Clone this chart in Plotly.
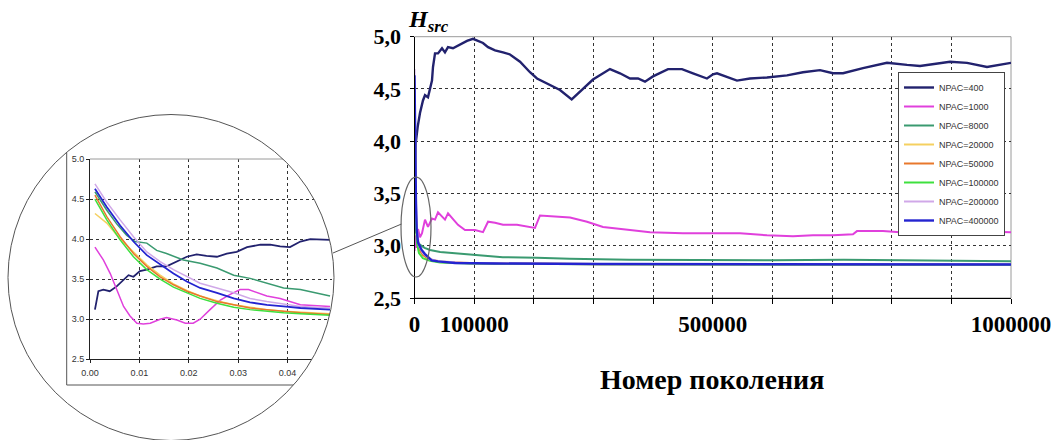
import numpy as np
import plotly.graph_objects as go

W, H = 1059, 440

# ---------------- data: main chart ----------------
names = ["NPAC=400", "NPAC=1000", "NPAC=8000", "NPAC=20000",
         "NPAC=50000", "NPAC=100000", "NPAC=200000", "NPAC=400000"]
colors = ["#22226e", "#e040dc", "#3a9a70", "#f5d060",
          "#e8782c", "#3ee03e", "#d0a8e8", "#2424d0"]
widths = [2.4, 2, 2, 2, 2, 2, 2, 2.4]

x_400 = [0, 2000, 5400, 9200, 14200, 17600, 22600, 26000, 29300, 31000, 34400, 39400,
         46100, 51100, 56200, 64500, 71200, 79600, 88000, 98100, 106500, 114800, 123300,
         135000, 148400, 160100, 176900, 193600, 205400, 218800, 230500, 243900, 263500,
         282500, 299200, 327700, 344500, 361300, 374700, 386400, 399800, 425000, 448400,
         466900, 490300, 500400, 507100, 540600, 562400, 590900, 624500, 651300, 679800,
         701600, 718400, 751900, 792100, 825700, 847500, 897800, 926300, 959800, 1000000]
y_400 = [3.12, 3.98, 4.14, 4.27, 4.39, 4.44, 4.42, 4.51, 4.58, 4.71, 4.84, 4.84,
         4.89, 4.85, 4.90, 4.89, 4.91, 4.93, 4.96, 4.98, 4.96, 4.94, 4.90,
         4.87, 4.85, 4.83, 4.76, 4.66, 4.60, 4.56, 4.53, 4.49, 4.40,
         4.50, 4.59, 4.69, 4.65, 4.60, 4.60, 4.57, 4.62, 4.69, 4.69,
         4.65, 4.60, 4.64, 4.65, 4.58, 4.60, 4.61, 4.63, 4.66, 4.68,
         4.65, 4.65, 4.70, 4.75, 4.73, 4.72, 4.76, 4.75, 4.71, 4.75]

x_1000 = [0, 1700, 3400, 5900, 9200, 12600, 17600, 22600, 29300, 34400, 39400, 46100,
          51100, 56200, 64500, 72900, 84700, 101400, 114800, 123300, 135000, 148400,
          171800, 193600, 202000, 210400, 232200, 260700, 289200, 316000, 361300, 394800,
          450100, 500400, 545700, 590900, 634500, 668000, 701600, 735100, 741800, 785400,
          813900, 847500, 926300, 1000000]
y_1000 = [2.95, 3.10, 2.98, 3.16, 3.08, 3.12, 3.25, 3.18, 3.26, 3.25, 3.32, 3.28,
          3.25, 3.31, 3.25, 3.20, 3.15, 3.15, 3.13, 3.23, 3.22, 3.20,
          3.20, 3.18, 3.17, 3.29, 3.28, 3.27, 3.23, 3.18, 3.15, 3.13,
          3.12, 3.12, 3.12, 3.10, 3.09, 3.10, 3.10, 3.11, 3.14, 3.14,
          3.13, 3.14, 3.14, 3.13]

x_8000 = [0, 1000, 2500, 5000, 9000, 17000, 26000, 43000, 65000, 110000, 148000, 205000,
          260000, 360000, 480000, 600000, 720000, 850000, 950000, 1000000]
y_8000 = [4.59, 3.70, 3.20, 3.05, 3.01, 2.98, 2.96, 2.94, 2.93, 2.91, 2.89, 2.885,
          2.875, 2.865, 2.862, 2.86, 2.865, 2.86, 2.858, 2.852]

x_big = [0, 800, 2500, 4200, 7500, 14000, 26000, 43000, 93000, 310000, 1000000]
y_20000 = [4.34, 3.90, 3.30, 3.10, 2.98, 2.92, 2.87, 2.85, 2.835, 2.825, 2.82]
y_50000 = [4.55, 3.95, 3.30, 3.08, 2.97, 2.91, 2.865, 2.845, 2.832, 2.824, 2.82]
y_100000 = [4.50, 3.85, 3.20, 3.02, 2.93, 2.88, 2.855, 2.84, 2.83, 2.822, 2.818]
y_200000 = [4.69, 4.10, 3.45, 3.15, 3.00, 2.93, 2.87, 2.85, 2.835, 2.826, 2.822]

x_400000 = [0, 800, 2500, 3700, 5900, 12000, 17600, 28800, 39400, 68000, 135000, 310000,
            650000, 1000000]
y_400000 = [4.63, 4.00, 3.40, 3.15, 3.03, 2.96, 2.92, 2.86, 2.85, 2.835, 2.83, 2.825,
            2.82, 2.82]

main_x = [x_400, x_1000, x_8000, x_big, x_big, x_big, x_big, x_400000]
main_y = [y_400, y_1000, y_8000, y_20000, y_50000, y_100000, y_200000, y_400000]

x_labelvals = [0, 100000, 500000, 1000000]
x_labeltext = ["0", "100000", "500000", "1000000"]
x_gridstep = 100000
y_tickvals = [2.5, 3.0, 3.5, 4.0, 4.5, 5.0]
y_ticktext = ["2,5", "3,0", "3,5", "4,0", "4,5", "5,0"]

# ---------------- data: inset (zoomed start) ----------------
ix_400 = [0.001, 0.0014, 0.0017, 0.0027, 0.004, 0.0054, 0.0068, 0.0078, 0.0088, 0.0101,
          0.0115, 0.0135, 0.0155, 0.0176, 0.0196, 0.0216, 0.0236, 0.0257, 0.0277, 0.0297,
          0.0318, 0.0345, 0.0365, 0.0385, 0.0405, 0.0426, 0.0446, 0.0486]
iy_400 = [3.12, 3.24, 3.35, 3.37, 3.35, 3.41, 3.49, 3.55, 3.53, 3.60,
          3.62, 3.66, 3.66, 3.72, 3.78, 3.81, 3.79, 3.78, 3.82, 3.84,
          3.90, 3.93, 3.93, 3.91, 3.90, 3.97, 4.00, 3.99]
ix_1000 = [0.0010, 0.0027, 0.0041, 0.0054, 0.0068, 0.0081, 0.0095, 0.0108, 0.0122, 0.0142,
           0.0155, 0.0176, 0.0193, 0.0209, 0.0223, 0.0243, 0.0264, 0.0284, 0.0304, 0.0321,
           0.0338, 0.0358, 0.0385, 0.0405, 0.0426, 0.0486]
iy_1000 = [3.90, 3.74, 3.57, 3.37, 3.16, 3.04, 2.95, 2.94, 2.95, 3.00,
           3.02, 2.99, 2.95, 2.95, 3.00, 3.12, 3.24, 3.31, 3.37, 3.37,
           3.33, 3.29, 3.26, 3.22, 3.18, 3.16]
ix_8000 = [0.0010, 0.0034, 0.0054, 0.0074, 0.0091, 0.0115, 0.0135, 0.0155, 0.0189, 0.0223,
           0.0257, 0.0291, 0.0324, 0.0358, 0.0392, 0.0426, 0.0459, 0.0486]
iy_8000 = [4.59, 4.36, 4.19, 4.05, 3.97, 3.95, 3.86, 3.82, 3.74, 3.70,
           3.64, 3.55, 3.51, 3.45, 3.39, 3.37, 3.33, 3.29]
ix_big = [0.0010, 0.0034, 0.0061, 0.0088, 0.0115, 0.0142, 0.0169, 0.0196, 0.0223, 0.0257,
          0.0291, 0.0324, 0.0358, 0.0392, 0.0426, 0.0486]
iy_20000 = [4.32, 4.20, 4.00, 3.84, 3.68, 3.55, 3.44, 3.36, 3.29, 3.23, 3.18, 3.15, 3.12, 3.10, 3.09, 3.07]
iy_50000 = [4.55, 4.28, 4.03, 3.82, 3.66, 3.53, 3.43, 3.35, 3.29, 3.22, 3.18, 3.14, 3.12, 3.10, 3.08, 3.06]
iy_100000 = [4.50, 4.24, 3.99, 3.78, 3.62, 3.50, 3.40, 3.33, 3.26, 3.20, 3.15, 3.12, 3.10, 3.08, 3.07, 3.05]
iy_200000 = [4.69, 4.46, 4.24, 4.03, 3.84, 3.72, 3.62, 3.53, 3.45, 3.39, 3.33, 3.26, 3.22, 3.19, 3.16, 3.14]
iy_400000 = [4.63, 4.40, 4.17, 3.97, 3.80, 3.68, 3.57, 3.47, 3.39, 3.33, 3.26, 3.21, 3.18, 3.16, 3.14, 3.12]

inset_x = [ix_400, ix_1000, ix_8000, ix_big, ix_big, ix_big, ix_big, ix_big]
inset_y = [iy_400, iy_1000, iy_8000, iy_20000, iy_50000, iy_100000, iy_200000, iy_400000]
ix_tickvals = [0, 0.01, 0.02, 0.03, 0.04]
ix_ticktext = ["0.00", "0.01", "0.02", "0.03", "0.04"]
iy_tickvals = [2.5, 3.0, 3.5, 4.0, 4.5, 5.0]
iy_ticktext = ["2.5", "3.0", "3.5", "4.0", "4.5", "5.0"]


# ---------------- helpers (pixel -> paper) ----------------
def px(x):
    return x / W


def py(y):
    return 1 - y / H


fig = go.Figure()

for i in range(len(names)):
    fig.add_trace(go.Scatter(
        x=main_x[i], y=main_y[i], mode="lines", name=names[i],
        line=dict(color=colors[i], width=widths[i]),
        xaxis="x", yaxis="y", hoverinfo="skip"))

for i in range(len(names)):
    fig.add_trace(go.Scatter(
        x=inset_x[i], y=inset_y[i], mode="lines", name=names[i], showlegend=False,
        line=dict(color=colors[i], width=1.8 if i in (0, 7) else 1.5),
        xaxis="x2", yaxis="y2", hoverinfo="skip"))

serif_bold = dict(family="Liberation Serif, Times New Roman, serif", color="black", weight="bold")
grid_kw = dict(showgrid=True, gridcolor="#333", griddash="dot", gridwidth=1, zeroline=False,
               automargin=False)
small_font = dict(family="Arial, Liberation Sans, sans-serif", size=9, color="#333")

fig.update_layout(
    width=W, height=H, autosize=False,
    margin=dict(l=0, r=0, t=0, b=0, pad=0),
    paper_bgcolor="white", plot_bgcolor="white",
    showlegend=True,
    xaxis=dict(domain=[px(414.5), px(1011)], range=[0, 1000000], anchor="y",
               tickmode="array", tickvals=x_labelvals, ticktext=x_labeltext,
               tickfont=dict(size=23, **serif_bold),
               showline=True, linecolor="black", linewidth=1,
               ticks="outside", ticklen=5, tickcolor="black", ticklabelstandoff=0,
               minor=dict(tickmode="linear", tick0=0, dtick=x_gridstep, showgrid=True,
                          gridcolor="#333", griddash="dot", gridwidth=1,
                          ticks="outside", ticklen=5, tickcolor="black"),
               **grid_kw),
    yaxis=dict(domain=[py(298), py(36.7)], range=[2.5, 5.0], anchor="x",
               tickmode="array", tickvals=y_tickvals, ticktext=y_ticktext,
               tickfont=dict(size=22, **serif_bold),
               showline=True, linecolor="black", linewidth=1,
               ticks="outside", ticklen=4, tickcolor="black", ticklabelstandoff=4,
               **grid_kw),
    xaxis2=dict(domain=[px(90), px(332)], range=[0, 0.049], anchor="y2",
                tickmode="array", tickvals=ix_tickvals, ticktext=ix_ticktext,
                tickfont=small_font,
                showline=True, linecolor="#222", linewidth=1,
                ticks="outside", ticklen=3, tickcolor="#222", ticklabelstandoff=2,
                **grid_kw),
    yaxis2=dict(domain=[py(359.3), py(159)], range=[2.5, 5.0], anchor="x2",
                tickmode="array", tickvals=iy_tickvals, ticktext=iy_ticktext,
                tickfont=small_font,
                showline=True, linecolor="#222", linewidth=1,
                ticks="outside", ticklen=3, tickcolor="#222",
                **grid_kw),
    legend=dict(x=px(898), y=py(72), xanchor="left", yanchor="top",
                bgcolor="white", bordercolor="#444", borderwidth=1,
                font=dict(family="Arial, Liberation Sans, sans-serif", size=9, color="#333"),
                tracegroupgap=0, itemwidth=30),
)

# annotations
fig.add_annotation(x=px(406), y=py(21), xref="paper", yref="paper",
                   xanchor="left", yanchor="middle", showarrow=False,
                   text="<b><i>H</i></b><sub><b><i>src</i></b></sub>",
                   font=dict(family="Liberation Serif, Times New Roman, serif", size=24, color="black"))
fig.add_annotation(x=px(712), y=py(379), xref="paper", yref="paper",
                   xanchor="center", yanchor="middle", showarrow=False,
                   text="<b>Номер поколения</b>",
                   font=dict(family="Liberation Serif, Times New Roman, serif", size=28, color="black"))

# shapes
shapes = []
shapes.append(dict(type="rect", xref="paper", yref="paper",
                   x0=px(414.5), x1=px(1011), y0=py(298), y1=py(36.7),
                   line=dict(color="#9a9a9a", width=1), layer="below"))
shapes.append(dict(type="line", xref="paper", yref="paper",
                   x0=px(90), x1=px(340), y0=py(159), y1=py(159),
                   line=dict(color="#9a9a9a", width=1), layer="above"))
shapes.append(dict(type="rect", xref="paper", yref="paper",
                   x0=px(66.7), x1=px(345), y0=py(385), y1=py(100),
                   line=dict(color="#555", width=1), layer="above"))
cx, cy, r = 171.0, 277.5, 163.0
t = np.linspace(0, 2 * np.pi, 241)
circ = " L".join(f"{px(cx + r * np.cos(a)):.5f},{py(cy + r * np.sin(a)):.5f}" for a in t)
rect = (f"M{px(0):.5f},{py(95):.5f} L{px(350):.5f},{py(95):.5f} "
        f"L{px(350):.5f},{py(440):.5f} L{px(0):.5f},{py(440):.5f} Z")
shapes.append(dict(type="path", xref="paper", yref="paper",
                   path=rect + " M" + circ + " Z", fillrule="evenodd",
                   fillcolor="white", line=dict(width=0), layer="above"))
shapes.append(dict(type="circle", xref="paper", yref="paper",
                   x0=px(cx - r), x1=px(cx + r), y0=py(cy + r), y1=py(cy - r),
                   line=dict(color="#555", width=1), layer="above"))
shapes.append(dict(type="line", xref="paper", yref="paper",
                   x0=px(333), y0=py(253), x1=px(401.5), y1=py(224),
                   line=dict(color="#555", width=1), layer="above"))
shapes.append(dict(type="circle", xref="paper", yref="paper",
                   x0=px(401), x1=px(431), y0=py(277), y1=py(177),
                   line=dict(color="#666", width=1.2), layer="above"))
fig.update_layout(shapes=shapes)

fig.write_html("out.html")
